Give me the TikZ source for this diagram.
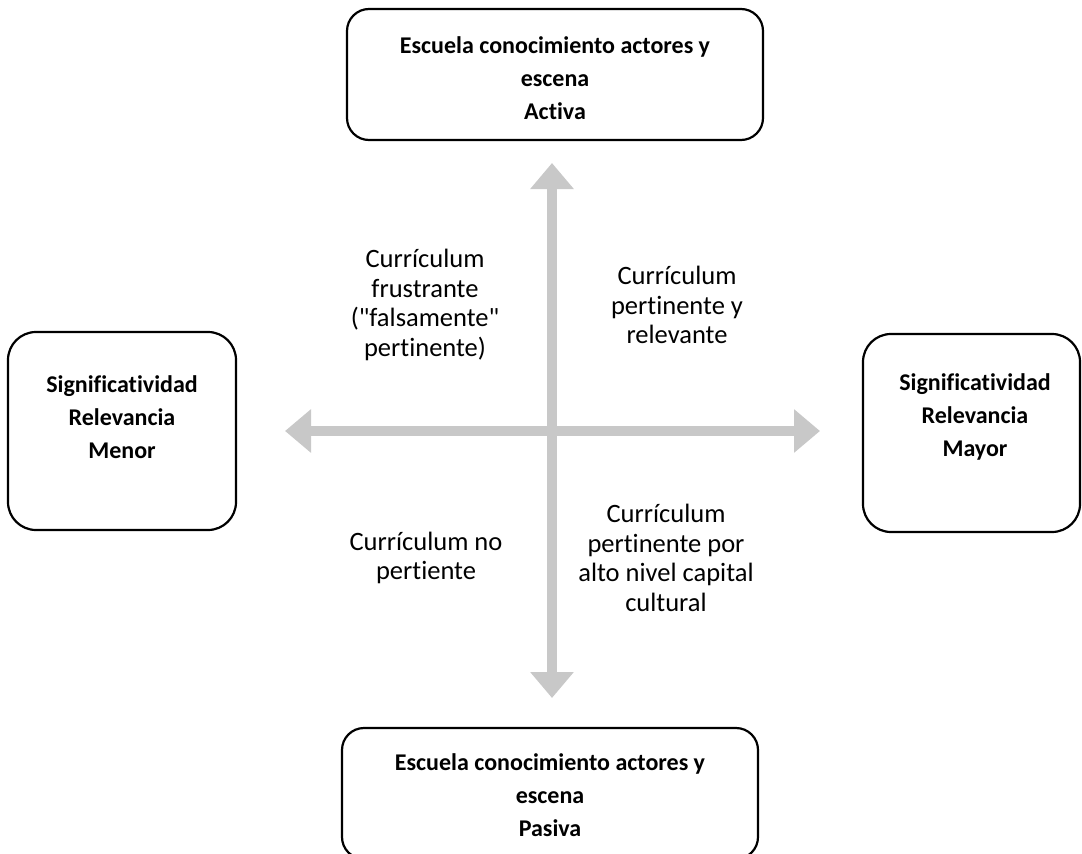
\documentclass[tikz,border=0pt]{standalone}
\usepackage{fontspec}
\setmainfont{Carlito}[Ligatures={TeXOff,CommonOff}]
\usetikzlibrary{arrows.meta}
\definecolor{arrowgray}{RGB}{200,200,200}
\tikzset{
  box/.style={draw=black, line width=2.2pt, fill=white, inner sep=0pt},
  boxtext/.style={align=center, inner sep=0pt, font=\fontsize{24}{33}\selectfont\bfseries},
  quadtext/.style={align=center, inner sep=0pt, font=\fontsize{26.5}{29.5}\selectfont},
  bigarrow/.style={draw=arrowgray, line width=10.5pt, {Triangle[length=26pt,width=42pt]}-{Triangle[length=26pt,width=42pt]}}
}
\begin{document}
\begin{tikzpicture}[x=1pt,y=-1pt]
\useasboundingbox (0,0) rectangle (1082,854);
\clip (0,0) rectangle (1082,854);
% arrows
\coordinate (vtop) at (552,163);
\coordinate (vbot) at (552,698);
\coordinate (hleft) at (285,431);
\coordinate (hright) at (820,431);
\draw[bigarrow] (hleft) -- (hright);
\draw[bigarrow] (vtop) -- (vbot);
% boxes
\node[box, rounded corners=22pt, minimum width=416pt, minimum height=131pt] (topbox) at (555,74.5) {};
\node[boxtext] (toptext) at (555,78) {Escuela conocimiento actores y\\escena\\Activa};
\node[box, rounded corners=22pt, minimum width=416pt, minimum height=131pt] (botbox) at (550,793.5) {};
\node[boxtext] (bottext) at (550,795) {Escuela conocimiento actores y\\escena\\Pasiva};
\node[box, rounded corners=28pt, minimum width=228pt, minimum height=198pt] (leftbox) at (122,431) {};
\node[boxtext] (lefttext) at (122,417) {Significatividad\\Relevancia\\Menor};
\node[box, rounded corners=28pt, minimum width=217pt, minimum height=198pt] (rightbox) at (971.5,433) {};
\node[boxtext] (righttext) at (975,417) {Significatividad\\Relevancia\\Mayor};
% quadrant labels
\node[quadtext] (q1) at (425,305) {Currículum\\frustrante\\("falsamente"\\pertinente)};
\node[quadtext] (q2) at (677,305) {Currículum\\pertinente y\\relevante};
\node[quadtext] (q3) at (426,558) {Currículum no\\pertiente};
\node[quadtext] (q4) at (666,558) {Currículum\\pertinente por\\alto nivel capital\\cultural};
\end{tikzpicture}
\end{document}
